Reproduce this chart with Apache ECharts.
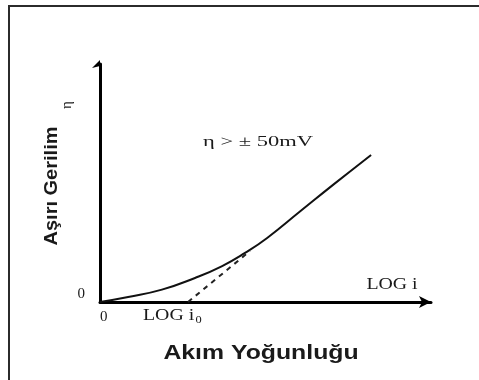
<!DOCTYPE html>
<html><head><meta charset="utf-8">
<script src="https://cdn.jsdelivr.net/npm/echarts@6/dist/echarts.min.js"></script>
<style>html,body{margin:0;padding:0;background:#fff}#c{width:479px;height:380px}</style>
</head><body><div id="c"></div>
<script>
// Polarisation curve (overpotential vs log current density)
const curveX = [0, 0.85, 1.87, 2.87, 3.69, 4.38, 5.05, 6.04, 7.04, 8.19];
const curveY = [0, 0.21, 0.52, 1.01, 1.51, 2.06, 2.69, 3.80, 4.92, 6.18];
// Tafel extrapolation (dashed) down to LOG i0
const tangentX = [2.66, 4.53];
const tangentY = [0, 2.14];
const xTickLabels = ['0'];
const yTickLabels = ['0'];
const yTitle = 'Aşırı Gerilim';
const xTitle = 'Akım Yoğunluğu';
const etaSymbol = 'η';
const noteText = 'η > ± 50mV';
const xEndLabel = 'LOG i';
const exchangeLabel = ['LOG i', '0'];

const serif = '"Liberation Serif", "Times New Roman", serif';
const sans = '"Liberation Sans", Arial, sans-serif';

function txt(x, y, text, font, opts) {
  opts = opts || {};
  return Object.assign({
    type: 'text', x: x, y: y, silent: true,
    style: Object.assign({
      text: text, font: font, fill: '#1a1a1a',
      align: opts.align || 'center', textAlign: opts.align || 'center',
      verticalAlign: 'middle', textVerticalAlign: 'middle'
    }, opts.style || {})
  }, opts.el || {});
}

const chart = echarts.init(document.getElementById('c'), null, {renderer: 'canvas'});
chart.setOption({
  animation: false,
  backgroundColor: '#fff',
  grid: {left: 100, right: 48, top: 64, bottom: 78},
  xAxis: {
    type: 'value', min: 0, max: 10, interval: 10,
    axisLine: {show: true, onZero: false, lineStyle: {color: '#000', width: 3},
      symbol: ['none', 'arrow'], symbolSize: [9, 12]},
    axisTick: {show: false}, splitLine: {show: false},
    axisLabel: {formatter: function (v) { return v === 0 ? xTickLabels[0] : ''; },
      align: 'left', margin: 8, fontFamily: serif, fontSize: 15, color: '#1a1a1a'}
  },
  yAxis: {
    type: 'value', min: 0, max: 10, interval: 10,
    axisLine: {show: true, onZero: false, lineStyle: {color: '#000', width: 3},
      symbol: ['none', 'path://M8,0 L0,8 L8,6 Z M16,8 L16,7.9 L15.9,7.9 Z'], symbolSize: [16, 8]},
    axisTick: {show: false}, splitLine: {show: false},
    axisLabel: {formatter: function (v) { return v === 0 ? yTickLabels[0] : ''; },
      margin: 15, verticalAlign: 'bottom', fontFamily: serif, fontSize: 15, color: '#1a1a1a'}
  },
  series: [
    {type: 'line', data: curveX.map(function (x, i) { return [x, curveY[i]]; }),
      smooth: 0.5, showSymbol: false, lineStyle: {color: '#111', width: 2}},
    {type: 'line', data: tangentX.map(function (x, i) { return [x, tangentY[i]]; }),
      showSymbol: false, lineStyle: {color: '#222', width: 2, type: [5, 5]}}
  ],
  graphic: [
    {type: 'rect', silent: true, shape: {x: 9, y: 6, width: 500, height: 420},
      style: {fill: 'none', stroke: '#2b2b2b', lineWidth: 2}},
    txt(52, 186, yTitle, 'bold 20px ' + sans, {el: {rotation: Math.PI / 2, scaleY: 0.95}}),
    txt(67, 105, etaSymbol, '15px ' + serif, {el: {rotation: Math.PI / 2}}),
    txt(258, 142, noteText, '15px ' + serif, {el: {scaleX: 1.5}}),
    txt(392, 285, xEndLabel, '16px ' + serif, {el: {scaleX: 1.24}}),
    txt(143, 316, exchangeLabel[0] + '{sub|' + exchangeLabel[1] + '}', '16px ' + serif,
      {align: 'left', el: {scaleX: 1.24},
       style: {rich: {sub: {font: '10px ' + serif, fill: '#1a1a1a', padding: [8, 0, 0, 1]}}}}),
    txt(261, 353, xTitle, 'bold 20px ' + sans, {el: {scaleX: 1.24}})
  ]
});
</script>
</body></html>
